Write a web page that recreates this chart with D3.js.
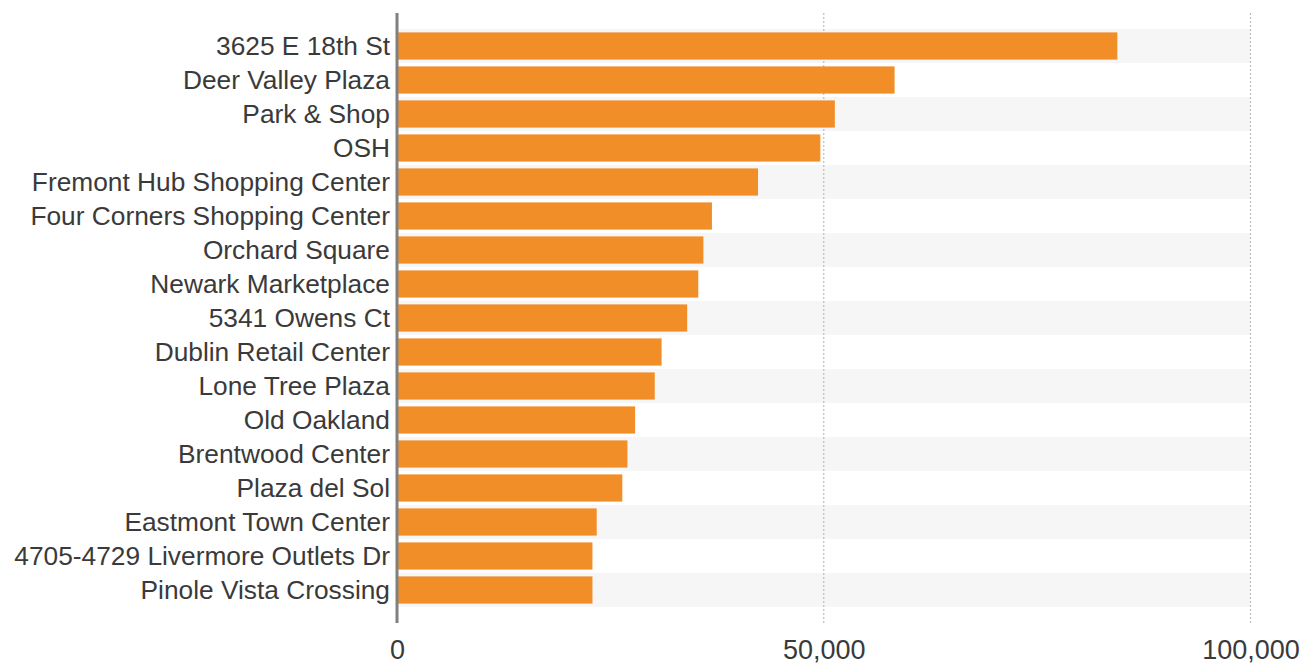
<!DOCTYPE html>
<html>
<head>
<meta charset="utf-8">
<script src="https://cdn.jsdelivr.net/npm/d3@7"></script>
<style>
  body { margin: 0; background: #fff; }
  svg { display: block; font-family: "Liberation Sans", Arial, sans-serif; }
</style>
</head>
<body>
<svg id="chart" width="1304" height="666"></svg>
<script>
const names = [
  "3625 E 18th St",
  "Deer Valley Plaza",
  "Park & Shop",
  "OSH",
  "Fremont Hub Shopping Center",
  "Four Corners Shopping Center",
  "Orchard Square",
  "Newark Marketplace",
  "5341 Owens Ct",
  "Dublin Retail Center",
  "Lone Tree Plaza",
  "Old Oakland",
  "Brentwood Center",
  "Plaza del Sol",
  "Eastmont Town Center",
  "4705-4729 Livermore Outlets Dr",
  "Pinole Vista Crossing"
];
const values = [84400, 58300, 51300, 49600, 42300, 36900, 35900, 35300, 34000,
  31000, 30200, 27900, 27000, 26400, 23400, 22900, 22900];
const tickValues = [0, 50000, 100000];

const data = names.map((n, i) => ({ name: n, value: values[i] }));

const svg = d3.select("#chart");

const x = d3.scaleLinear().domain([0, 100000]).range([397, 1250.5]);

// row bands (alternating background) and bar bands
const rows = d3.scaleBand().domain(names).range([29, 607]).padding(0);
const y = d3.scaleBand().domain(names).range([29, 607])
  .paddingInner(0.2).paddingOuter(0.1);

// alternating row backgrounds
svg.append("g")
  .selectAll("rect")
  .data(data.filter((d, i) => i % 2 === 0))
  .enter()
  .append("rect")
  .attr("x", x(0))
  .attr("y", (d) => rows(d.name))
  .attr("width", x(100000) - x(0))
  .attr("height", rows.bandwidth())
  .attr("fill", "#f6f6f6");

// dotted gridlines
svg.append("g")
  .selectAll("line")
  .data(tickValues.filter((t) => t > 0))
  .enter()
  .append("line")
  .attr("x1", (d) => x(d))
  .attr("x2", (d) => x(d))
  .attr("y1", 13)
  .attr("y2", 623)
  .attr("stroke", "#bdbdbd")
  .attr("stroke-width", 1.2)
  .attr("stroke-dasharray", "2,2");

// bars
svg.append("g")
  .selectAll("rect")
  .data(data)
  .enter()
  .append("rect")
  .attr("x", x(0) + 1)
  .attr("y", (d) => y(d.name))
  .attr("width", (d) => x(d.value) - x(0) - 1)
  .attr("height", y.bandwidth())
  .attr("fill", "#f28e27");

// category labels
svg.append("g")
  .selectAll("text")
  .data(data)
  .enter()
  .append("text")
  .attr("x", 390)
  .attr("y", (d) => rows(d.name) + rows.bandwidth() / 2)
  .attr("dy", "0.33em")
  .attr("text-anchor", "end")
  .attr("font-size", "26.3px")
  .attr("fill", "#3a3a3a")
  .text((d) => d.name);

// x axis ticks
const xAxis = d3.axisBottom(x)
  .tickValues(tickValues)
  .tickSize(0)
  .tickPadding(0)
  .tickFormat(d3.format(","));

const gx = svg.append("g")
  .attr("transform", "translate(0,640)")
  .call(xAxis);
gx.select(".domain").remove();
gx.selectAll("text")
  .attr("dy", "0.72em")
  .attr("y", 0)
  .attr("font-size", "27px")
  .attr("font-family", "Liberation Sans, Arial, sans-serif")
  .attr("fill", "#3a3a3a");

// vertical axis line
svg.append("line")
  .attr("x1", x(0))
  .attr("x2", x(0))
  .attr("y1", 13)
  .attr("y2", 623)
  .attr("stroke", "#808080")
  .attr("stroke-width", 3);
</script>
</body>
</html>
